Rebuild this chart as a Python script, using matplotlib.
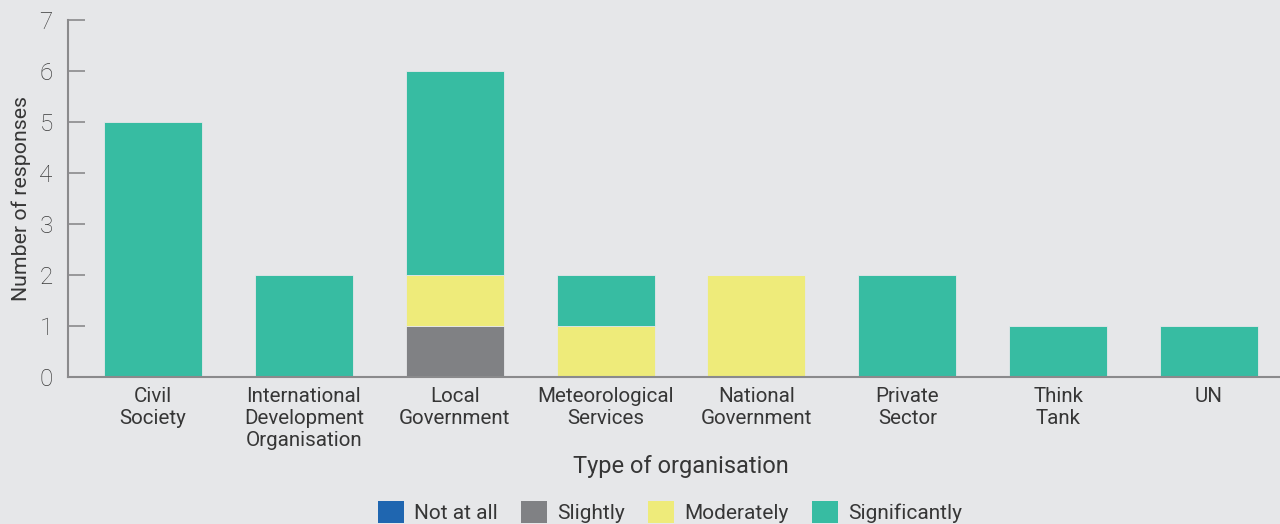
import matplotlib
matplotlib.use("Agg")
import matplotlib.pyplot as plt
import numpy as np
from matplotlib.patches import Patch

categories = ["Civil\nSociety", "International\nDevelopment\nOrganisation", "Local\nGovernment",
              "Meteorological\nServices", "National\nGovernment", "Private\nSector", "Think\nTank", "UN"]
not_at_all = [0, 0, 0, 0, 0, 0, 0, 0]
slightly = [0, 0, 1, 0, 0, 0, 0, 0]
moderately = [0, 0, 1, 1, 2, 0, 0, 0]
significantly = [5, 2, 4, 1, 0, 2, 1, 1]
series_names = ["Not at all", "Slightly", "Moderately", "Significantly"]
colors = ["#1f66b0", "#808184", "#eeeb7a", "#37bca2"]

plt.rcParams['font.family'] = ['Roboto', 'DejaVu Sans']
bg = "#e6e7e9"
txt = "#363636"

fig = plt.figure(figsize=(12.8, 5.24), dpi=100, facecolor=bg)
ax = fig.add_axes([68/1280, 1-377/524, 1-68/1280, (377-20)/524])
ax.set_facecolor(bg)

x = np.arange(len(categories))
bottom = np.zeros(len(categories))
for name, vals, c in zip(series_names, [not_at_all, slightly, moderately, significantly], colors):
    vals = np.array(vals, dtype=float)
    ax.bar(x, vals, width=0.65, bottom=bottom, color=c, edgecolor=bg, linewidth=0.6, label=name)
    bottom += vals

ax.set_xlim(-0.563, 7.47)
ax.set_ylim(0, 7)
ax.set_yticks(range(0, 8))
ax.set_xticks(x)
ax.set_xticklabels(categories, fontsize=14.8, color=txt, linespacing=1.2)
for s in ["top", "right"]:
    ax.spines[s].set_visible(False)
for s in ["left", "bottom"]:
    ax.spines[s].set_color("#8a8a8c")
    ax.spines[s].set_linewidth(1.5)
ax.tick_params(axis='y', direction='in', length=12, width=1.2, color="#8a8a8c",
               labelsize=17.5, labelcolor="#3a3a3a", pad=11)
for lab in ax.get_yticklabels():
    lab.set_fontweight('light')
ax.tick_params(axis='x', length=0, pad=7)
ax.set_xlabel("Type of organisation", fontsize=17, color=txt)
ax.xaxis.set_label_coords((681-68)/1212, -(467-377)/357, transform=ax.transAxes)
ax.xaxis.label.set_va('center')
ax.set_ylabel("Number of responses", fontsize=15.3, color=txt, labelpad=6)

handles = [Patch(facecolor=c, edgecolor='none') for c in colors]
fig.legend(handles, series_names, loc='center', bbox_to_anchor=(670/1280, 12/524),
           ncol=4, frameon=False, fontsize=15, handlelength=1.25, handleheight=1.2,
           handletextpad=0.5, columnspacing=1.1, labelcolor=txt)

fig.savefig("out.png", dpi=100, facecolor=bg)
